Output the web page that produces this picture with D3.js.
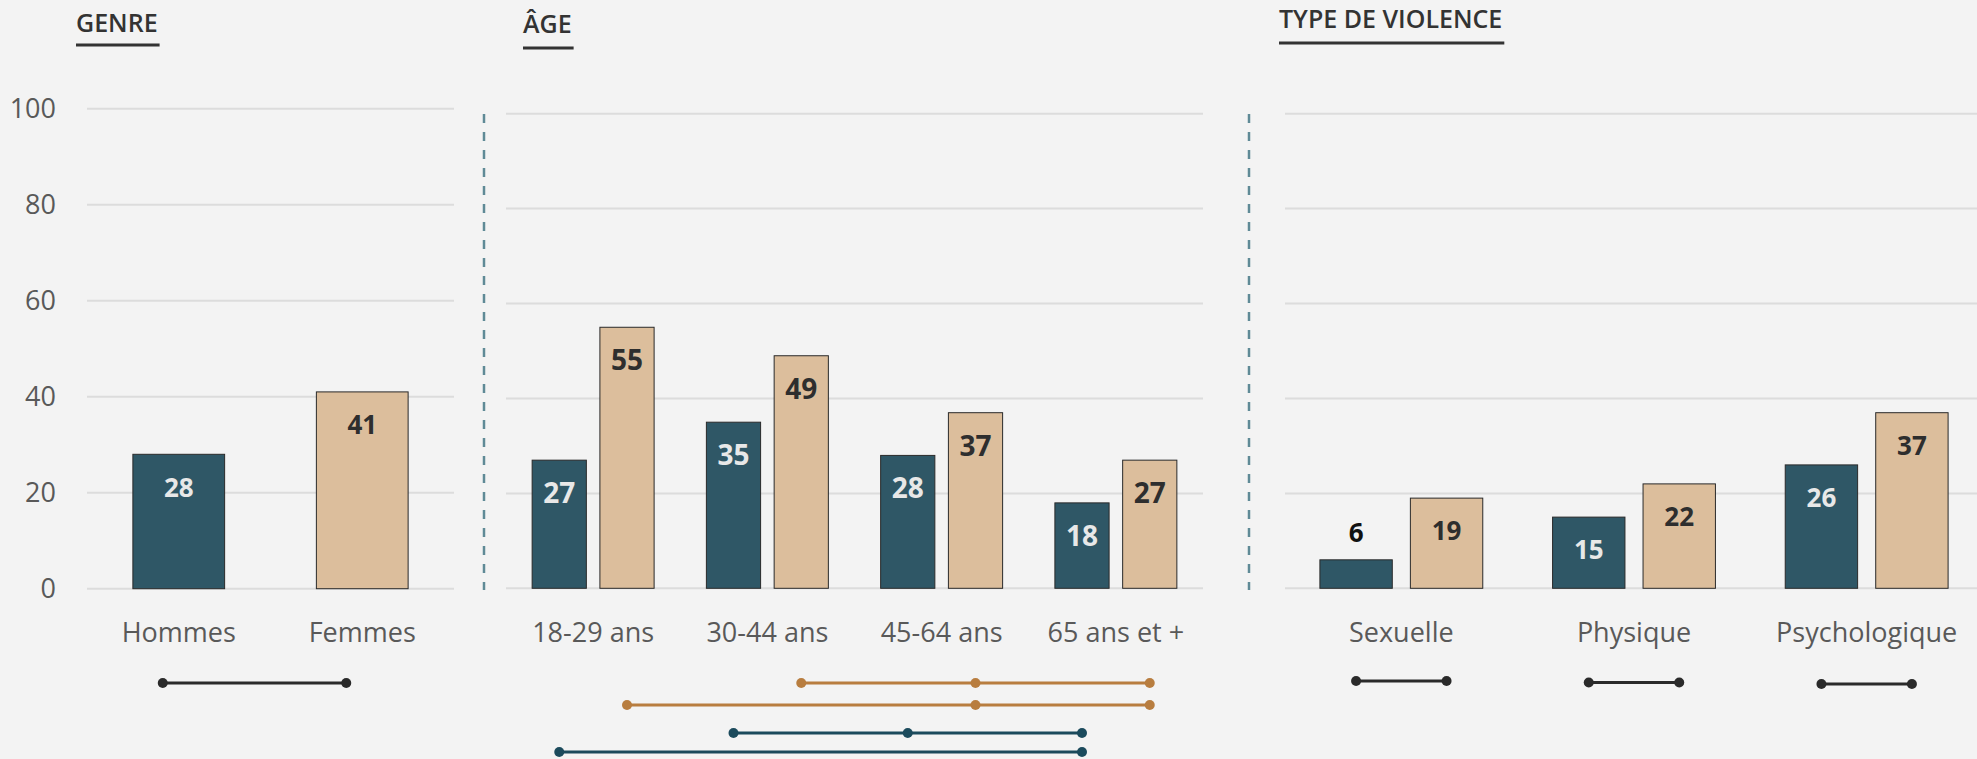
<!DOCTYPE html>
<html>
<head>
<meta charset="utf-8">
<script src="https://cdn.jsdelivr.net/npm/d3@7/dist/d3.min.js"></script>
<style>
  html, body { margin: 0; padding: 0; background: #f3f3f3; }
  svg { display: block; font-family: 'Open Sans', sans-serif; }
</style>
</head>
<body>
<svg id="chart" width="1977" height="759"></svg>
<script>
// data
const titles = ['GENRE', 'ÂGE', 'TYPE DE VIOLENCE']
const yTicks = [0, 20, 40, 60, 80, 100]

const genreCats = ['Hommes', 'Femmes']
const genreValues = [28, 41]

const ageCats = ['18-29 ans', '30-44 ans', '45-64 ans', '65 ans et +']
const ageHommes = [27, 35, 28, 18]
const ageFemmes = [55, 49, 37, 27]

const violenceCats = ['Sexuelle', 'Physique', 'Psychologique']
const violenceHommes = [6, 15, 26]
const violenceFemmes = [19, 22, 37]

const series = ['Hommes', 'Femmes']

// connecteurs sous les axes (groupes reliés)
const genreLinks = [['Hommes', 'Femmes']]
const ageLinks = [
    { serie: 'Femmes', cats: ['30-44 ans', '45-64 ans', '65 ans et +'] },
    { serie: 'Femmes', cats: ['18-29 ans', '45-64 ans', '65 ans et +'] },
    { serie: 'Hommes', cats: ['30-44 ans', '45-64 ans', '65 ans et +'] },
    { serie: 'Hommes', cats: ['18-29 ans', '65 ans et +'] }
]
const ageLinkRows = [683, 705, 733, 752]

const colors = { Hommes: '#2f5766', Femmes: '#dcbe9c' }
const linkColors = { Hommes: '#1b4a5c', Femmes: '#b87d3f', neutral: '#2a2a2a' }

const svg = d3.select('#chart')

function drawTitle(text, x, y, lineY) {
    const t = svg.append('text')
        .attr('x', x)
        .attr('y', y)
        .attr('font-size', 25)
        .attr('font-weight', 600)
        .attr('fill', '#333')
        .text(text)
    const w = t.node().getComputedTextLength()
    svg.append('line')
        .attr('x1', x).attr('x2', x + w + 2)
        .attr('y1', lineY).attr('y2', lineY)
        .attr('stroke', '#333')
        .attr('stroke-width', 3)
}

function drawGrid(y, x0, x1) {
    svg.append('g')
        .selectAll('line')
        .data(yTicks)
        .join('line')
        .attr('x1', x0).attr('x2', x1)
        .attr('y1', d => y(d)).attr('y2', d => y(d))
        .attr('stroke', '#dcdcdc')
        .attr('stroke-width', 2)
}

function drawCatLabels(cats, xc) {
    svg.append('g')
        .selectAll('text')
        .data(cats)
        .join('text')
        .attr('x', d => xc(d))
        .attr('y', 642)
        .attr('text-anchor', 'middle')
        .attr('font-size', 27)
        .attr('fill', '#595959')
        .text(d => d)
}

function drawLink(points, y, color) {
    svg.append('line')
        .attr('x1', d3.min(points)).attr('x2', d3.max(points))
        .attr('y1', y).attr('y2', y)
        .attr('stroke', color)
        .attr('stroke-width', 3)
    svg.append('g')
        .selectAll('circle')
        .data(points)
        .join('circle')
        .attr('cx', d => d).attr('cy', y)
        .attr('r', 5)
        .attr('fill', color)
}

function drawBars(rows, y, labelSize) {
    const g = svg.append('g')
    g.selectAll('rect')
        .data(rows)
        .join('rect')
        .attr('x', d => d.x)
        .attr('width', d => d.w)
        .attr('y', d => y(d.value))
        .attr('height', d => y(0) - y(d.value))
        .attr('fill', d => colors[d.serie])
        .attr('stroke', '#2a2a2a')
        .attr('stroke-width', 1)

    g.selectAll('text')
        .data(rows)
        .join('text')
        .attr('x', d => d.x + d.w / 2)
        .attr('y', d => {
            const h = y(0) - y(d.value)
            return h < 45 ? y(d.value) - 27 : y(d.value) + 33
        })
        .attr('dy', '0.36em')
        .attr('text-anchor', 'middle')
        .attr('font-size', labelSize)
        .attr('font-weight', 700)
        .attr('fill', d => {
            const h = y(0) - y(d.value)
            if (h < 45) return '#111'
            return d.serie === 'Hommes' ? '#e8e8e8' : '#2e2e2e'
        })
        .text(d => d.value)
}

// separateurs
;[484, 1249].forEach(x => {
    svg.append('line')
        .attr('x1', x).attr('x2', x)
        .attr('y1', 114).attr('y2', 590)
        .attr('stroke', '#5f8a96')
        .attr('stroke-width', 2.5)
        .attr('stroke-dasharray', '9,9')
})

// ---- GENRE ----
{
    const y = d3.scaleLinear().domain([0, 100]).range([588.7, 108.7])
    const x = d3.scaleBand().domain(genreCats).range([87, 454])
        .paddingInner(0.5).paddingOuter(0.25)

    drawTitle(titles[0], 76, 32, 45)
    drawGrid(y, 87, 454)

    // axe gauche
    svg.append('g')
        .selectAll('text')
        .data(yTicks)
        .join('text')
        .attr('x', 56)
        .attr('y', d => y(d))
        .attr('dy', '0.36em')
        .attr('text-anchor', 'end')
        .attr('font-size', 27)
        .attr('fill', '#595959')
        .text(d => d)

    const rows = genreCats.map((c, i) => ({
        serie: series[i], value: genreValues[i], x: x(c), w: x.bandwidth()
    }))
    drawBars(rows, y, 26)
    drawCatLabels(genreCats, d => x(d) + x.bandwidth() / 2)

    genreLinks.forEach(pair => {
        drawLink(pair.map(c => x(c) + x.bandwidth() / 2 - 16), 683, linkColors.neutral)
    })
}

// ---- AGE ----
{
    const y = d3.scaleLinear().domain([0, 100]).range([588.3, 113.7])
    const x0 = d3.scaleBand().domain(ageCats).range([506, 1203])
        .paddingInner(0.3).paddingOuter(0.15)
    const x1 = d3.scaleBand().domain(series).range([0, x0.bandwidth()])
        .paddingInner(0.2)

    drawTitle(titles[1], 523, 33, 48)
    drawGrid(y, 506, 1203)

    const rows = []
    ageCats.forEach((c, i) => {
        rows.push({ serie: 'Hommes', value: ageHommes[i], x: x0(c) + x1('Hommes'), w: x1.bandwidth() })
        rows.push({ serie: 'Femmes', value: ageFemmes[i], x: x0(c) + x1('Femmes'), w: x1.bandwidth() })
    })
    drawBars(rows, y, 28)
    drawCatLabels(ageCats, d => x0(d) + x0.bandwidth() / 2)

    ageLinks.forEach((link, i) => {
        const pts = link.cats.map(c => x0(c) + x1(link.serie) + x1.bandwidth() / 2)
        drawLink(pts, ageLinkRows[i], linkColors[link.serie])
    })
}

// ---- TYPE DE VIOLENCE ----
{
    const y = d3.scaleLinear().domain([0, 100]).range([588.3, 113.7])
    const x0 = d3.scaleBand().domain(violenceCats).range([1285, 1983])
        .paddingInner(0.3).paddingOuter(0.15)
    const x1 = d3.scaleBand().domain(series).range([0, x0.bandwidth()])
        .paddingInner(0.2)

    drawTitle(titles[2], 1279, 28, 43)
    drawGrid(y, 1285, 1983)

    const rows = []
    violenceCats.forEach((c, i) => {
        rows.push({ serie: 'Hommes', value: violenceHommes[i], x: x0(c) + x1('Hommes'), w: x1.bandwidth() })
        rows.push({ serie: 'Femmes', value: violenceFemmes[i], x: x0(c) + x1('Femmes'), w: x1.bandwidth() })
    })
    drawBars(rows, y, 26)
    drawCatLabels(violenceCats, d => x0(d) + x0.bandwidth() / 2)

    violenceCats.forEach((c, i) => {
        const pts = series.map(s => x0(c) + x1(s) + x1.bandwidth() / 2)
        drawLink(pts, 681 + i * 1.5, linkColors.neutral)
    })
}
</script>
</body>
</html>
